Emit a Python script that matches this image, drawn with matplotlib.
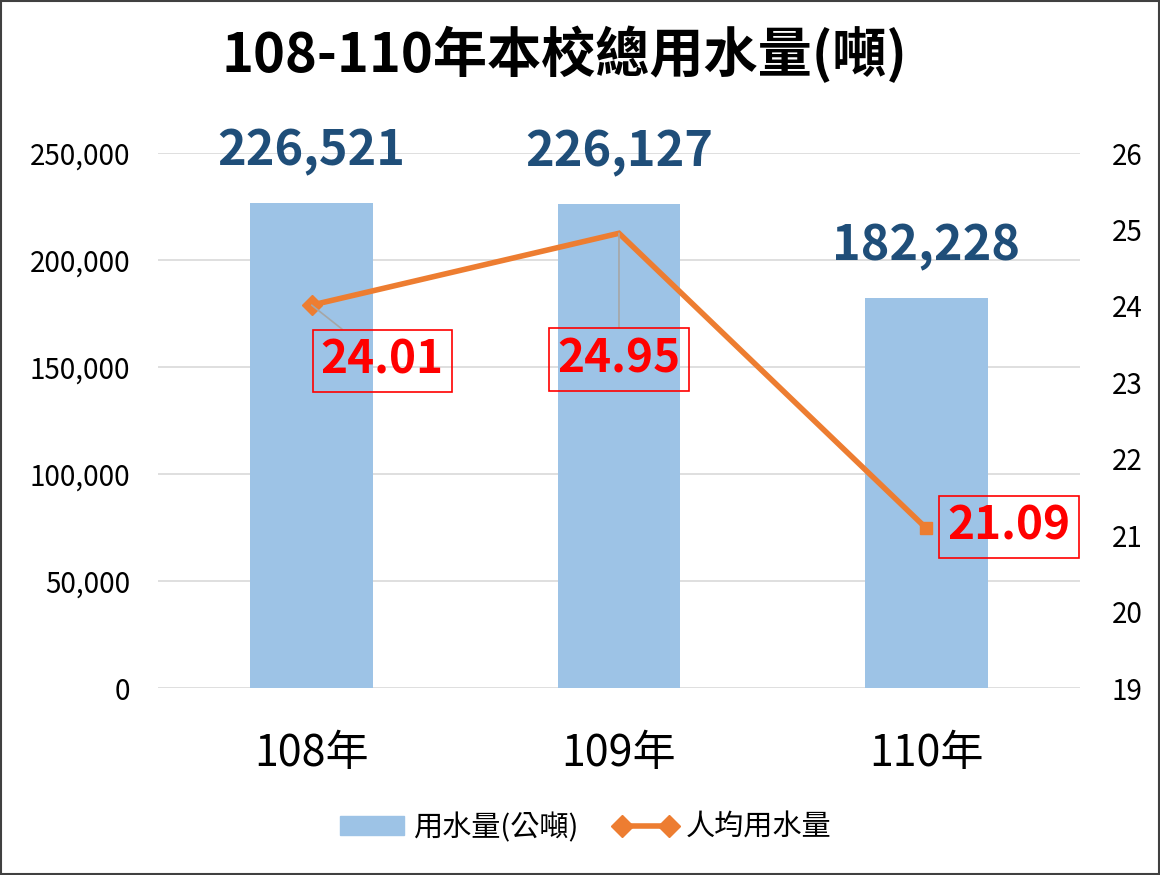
import matplotlib.pyplot as plt
from matplotlib.lines import Line2D
from matplotlib.patches import Patch, Rectangle

plt.rcParams['font.family'] = ['Noto Sans CJK TC', 'DejaVu Sans']

# data
years = ['108年', '109年', '110年']
usage = [226521, 226127, 182228]          # 用水量(公噸)
per_capita = [24.01, 24.95, 21.09]         # 人均用水量
usage_ticks = [0, 50000, 100000, 150000, 200000, 250000]
per_capita_ticks = [19, 20, 21, 22, 23, 24, 25, 26]

bar_color = '#9DC3E6'
line_color = '#ED7D31'
label_blue = '#1F4E79'

fig = plt.figure(figsize=(11.6, 8.75), dpi=100)
ax = fig.add_axes([0.1362, 0.2137, 0.7948, 0.6114])
x = list(range(len(years)))

ax.bar(x, usage, width=0.4, color=bar_color, zorder=2)
ax.set_xlim(-0.5, len(years) - 0.5)
ax.set_ylim(0, 250000)
ax.set_yticks(usage_ticks)
ax.set_yticklabels([f'{v:,}' for v in usage_ticks], fontsize=20)
ax.set_xticks(x)
ax.set_xticklabels(years, fontsize=31)
ax.tick_params(axis='both', length=0)
ax.tick_params(axis='x', pad=32)
ax.tick_params(axis='y', pad=20)
ax.grid(axis='y', color='#D9D9D9', linewidth=1.2, zorder=0)
for s in ax.spines.values():
    s.set_visible(False)

# value labels on top of bars
for xi, v in zip(x, usage):
    ax.annotate(f'{v:,}', (xi, v), xytext=(0, 37), textcoords='offset points',
                ha='center', va='center', fontsize=35, fontweight='bold',
                color=label_blue, zorder=5)

# per-capita line on right axis
ax2 = ax.twinx()
ax2.set_ylim(19, 26)
ax2.set_yticks(per_capita_ticks)
ax2.tick_params(axis='y', length=0, labelsize=20, pad=23)
for s in ax2.spines.values():
    s.set_visible(False)
ax2.plot(x, per_capita, color=line_color, linewidth=4, zorder=3,
         solid_joinstyle='miter')
ax2.plot(x[0], per_capita[0], marker='D', color=line_color, markersize=10, zorder=4)
ax2.plot(x[2], per_capita[2], marker='s', color=line_color, markersize=9, zorder=4)

# boxed red labels
label_pos = [(0.23, 23.28), (1.0, 23.30), (2.27, 21.11)]
for i, (xi, v) in enumerate(zip(x, per_capita)):
    arrow = dict(arrowstyle='-', color='#A6A6A6', lw=1.2, shrinkA=0, shrinkB=0) if i < 2 else None
    ax2.annotate(f'{v:.2f}', (xi, v), xytext=label_pos[i], textcoords='data',
                 ha='center', va='center', fontsize=33, fontweight='bold', color='#FF0000',
                 bbox=dict(boxstyle='square,pad=0.18', fc='none', ec='#FF0000', lw=1.2),
                 arrowprops=arrow, zorder=6)

fig.suptitle('108-110年本校總用水量(噸)', x=0.487, y=0.937, fontsize=39,
             fontweight='bold', va='center')

handles = [Patch(color=bar_color),
           Line2D([0, 1], [0, 0], color=line_color, lw=4, marker='D', markersize=11)]
fig.legend(handles, ['用水量(公噸)', '人均用水量'], loc='center',
           bbox_to_anchor=(0.505, 0.054), ncol=2, frameon=False, fontsize=21,
           numpoints=2, handlelength=2.2, handleheight=0.6, handletextpad=0.3,
           columnspacing=1.2)

fig.add_artist(Rectangle((0.001, 0.001), 0.998, 0.998, transform=fig.transFigure,
                         fill=False, ec='#404040', lw=1.5))

fig.savefig('out.png', dpi=100)
